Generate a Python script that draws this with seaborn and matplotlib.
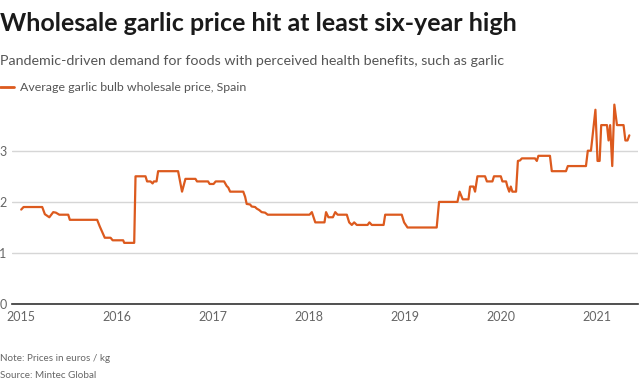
import pandas as pd
import matplotlib
matplotlib.use("Agg")
import matplotlib.pyplot as plt
import seaborn as sns

dates = [
    "2015-01-01", "2015-01-10", "2015-03-22", "2015-04-01", "2015-04-18", "2015-05-03",
    "2015-05-13", "2015-05-26", "2015-06-29", "2015-07-05", "2015-10-17", "2015-10-27",
    "2015-11-15", "2015-12-07", "2015-12-15", "2016-01-24", "2016-01-28", "2016-03-06",
    "2016-03-11", "2016-04-18", "2016-04-24", "2016-05-07", "2016-05-15", "2016-05-20",
    "2016-05-30", "2016-06-05", "2016-08-20", "2016-09-04", "2016-09-17", "2016-10-25",
    "2016-10-31", "2016-12-12", "2016-12-18", "2017-01-02", "2017-01-10", "2017-02-11",
    "2017-02-21", "2017-02-27", "2017-03-06", "2017-04-25", "2017-05-02", "2017-05-08",
    "2017-05-21", "2017-05-27", "2017-06-09", "2017-06-15", "2017-06-25", "2017-07-04",
    "2017-07-17", "2017-07-27", "2018-01-02", "2018-01-11", "2018-01-24", "2018-02-28",
    "2018-03-06", "2018-03-15", "2018-04-01", "2018-04-10", "2018-04-19", "2018-05-24",
    "2018-06-02", "2018-06-12", "2018-06-21", "2018-07-01", "2018-08-11", "2018-08-18",
    "2018-08-27", "2018-10-11", "2018-10-17", "2018-12-19", "2018-12-28", "2019-01-10",
    "2019-05-01", "2019-05-10", "2019-07-19", "2019-07-27", "2019-08-08", "2019-08-30",
    "2019-09-05", "2019-09-18", "2019-09-24", "2019-10-03", "2019-11-01", "2019-11-08",
    "2019-11-29", "2019-12-05", "2019-12-31", "2020-01-06", "2020-01-20", "2020-01-25",
    "2020-02-01", "2020-02-07", "2020-02-13", "2020-02-27", "2020-03-05", "2020-03-13",
    "2020-03-20", "2020-05-09", "2020-05-16", "2020-05-22", "2020-07-05", "2020-07-12",
    "2020-09-04", "2020-09-11", "2020-11-19", "2020-11-26", "2020-12-08", "2020-12-25",
    "2021-01-02", "2021-01-10", "2021-01-16", "2021-02-07", "2021-02-13", "2021-02-19",
    "2021-02-27", "2021-03-07", "2021-03-17", "2021-04-11", "2021-04-18", "2021-04-26",
    "2021-05-03",
]
prices = [
    1.85, 1.90, 1.90, 1.76, 1.70, 1.80,
    1.79, 1.75, 1.75, 1.65, 1.65, 1.52,
    1.30, 1.30, 1.25, 1.25, 1.20, 1.20,
    2.50, 2.50, 2.40, 2.40, 2.36, 2.40,
    2.40, 2.60, 2.60, 2.20, 2.45, 2.45,
    2.40, 2.40, 2.35, 2.35, 2.40, 2.40,
    2.31, 2.28, 2.20, 2.20, 2.10, 1.96,
    1.95, 1.91, 1.90, 1.87, 1.84, 1.80,
    1.79, 1.75, 1.75, 1.80, 1.60, 1.60,
    1.80, 1.70, 1.70, 1.80, 1.75, 1.75,
    1.60, 1.55, 1.60, 1.55, 1.55, 1.60,
    1.55, 1.55, 1.75, 1.75, 1.60, 1.50,
    1.50, 2.00, 2.00, 2.20, 2.05, 2.05,
    2.30, 2.30, 2.20, 2.50, 2.50, 2.40,
    2.40, 2.50, 2.50, 2.40, 2.40, 2.30,
    2.20, 2.30, 2.20, 2.20, 2.80, 2.81,
    2.85, 2.85, 2.80, 2.90, 2.90, 2.60,
    2.60, 2.70, 2.70, 3.00, 3.00, 3.80,
    2.80, 2.80, 3.50, 3.50, 3.20, 3.50,
    2.70, 3.90, 3.50, 3.50, 3.20, 3.20,
    3.30,
]
year_ticks = [2015, 2016, 2017, 2018, 2019, 2020, 2021]
y_ticks = [0, 1, 2, 3]

title = "Wholesale garlic price hit at least six-year high"
subtitle = "Pandemic-driven demand for foods with perceived health benefits, such as garlic"
series_name = "Average garlic bulb wholesale price, Spain"
note = "Note: Prices in euros / kg"
source = "Source: Mintec Global"

LINE = "#dc5a1e"
GREY = "#666666"

sns.set_theme(style="white")
plt.rcParams["font.family"] = ["Lato", "DejaVu Sans"]

df = pd.DataFrame({"date": pd.to_datetime(dates), "price": prices})

fig = plt.figure(figsize=(6.4, 3.88), dpi=100)
ax = fig.add_axes([12 / 640, 1 - 304.3 / 388, (638 - 12) / 640, 204.8 / 388])

sns.lineplot(data=df, x="date", y="price", ax=ax, color=LINE, linewidth=1.6,
             estimator=None, sort=False)

ax.set_xlim(pd.Timestamp("2014-11-27"), pd.Timestamp("2021-06-05"))
ax.set_ylim(0, 4)
ax.set_yticks(y_ticks)
ax.set_yticklabels([str(v) for v in y_ticks])
ax.set_xticks([pd.Timestamp(f"{y}-01-01") for y in year_ticks])
ax.set_xticklabels([str(y) for y in year_ticks])
ax.grid(axis="y", color="#d6d6d6", linewidth=1)
ax.grid(axis="x", visible=False)
for s in ["top", "right", "left"]:
    ax.spines[s].set_visible(False)
ax.spines["bottom"].set_color("#333333")
ax.spines["bottom"].set_linewidth(1.2)
ax.tick_params(axis="both", length=0, colors=GREY, labelsize=9)
ax.tick_params(axis="x", pad=5)
ax.tick_params(axis="y", pad=4)
ax.set_xlabel("")
ax.set_ylabel("")

fig.text(0.0, 1 - 31 / 388, title, fontsize=18, fontweight="bold", color="#1a1a1a",
         ha="left", va="baseline")
fig.text(0.0, 1 - 65 / 388, subtitle, fontsize=10.25, color="#555555", ha="left", va="baseline")
fig.add_artist(plt.Line2D([0, 14 / 640], [1 - 87 / 388, 1 - 87 / 388], color=LINE,
                          linewidth=2, transform=fig.transFigure))
fig.text(20 / 640, 1 - 91 / 388, series_name, fontsize=8.95, color="#555555",
         ha="left", va="baseline")
fig.text(0.0, 1 - 361 / 388, note, fontsize=7.1, color=GREY, ha="left", va="baseline")
fig.text(0.0, 1 - 378 / 388, source, fontsize=7.1, color=GREY, ha="left", va="baseline")

fig.savefig("out.png", dpi=100)
